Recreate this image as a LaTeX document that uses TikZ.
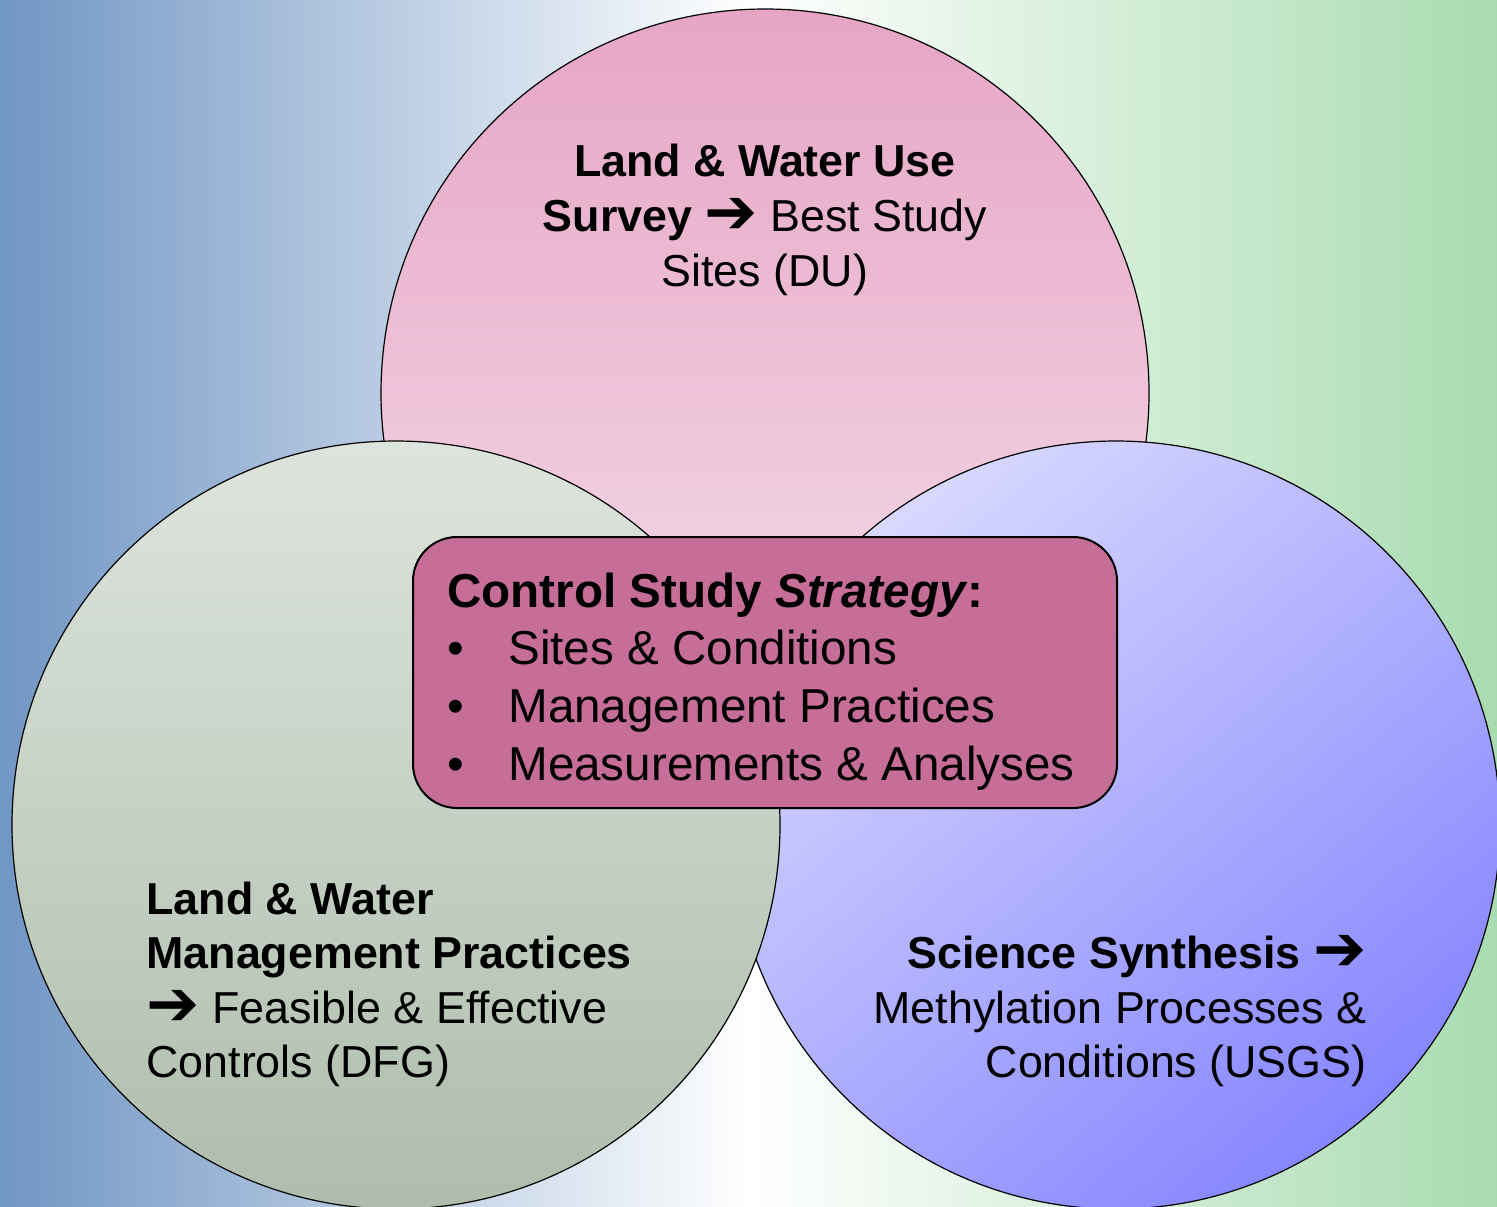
\documentclass[tikz,border=0pt]{standalone}
\usepackage{fontspec}
\setmainfont{Liberation Sans}
\newfontfamily\arrowfont{DejaVu Sans}
\newcommand{\toarrow}{\raisebox{-1.2pt}{\scalebox{1.42}{\arrowfont\symbol{"2794}}}}

\definecolor{bgblue}{RGB}{112,150,196}
\definecolor{bggreen}{RGB}{168,220,176}
\definecolor{pinktop}{RGB}{230,165,197}
\definecolor{pinkbot}{RGB}{246,224,235}
\definecolor{sagetop}{RGB}{221,228,221}
\definecolor{sagebot}{RGB}{174,189,172}
\definecolor{lilactop}{RGB}{216,216,255}
\definecolor{lilacbot}{RGB}{134,134,255}
\definecolor{boxpink}{RGB}{198,110,152}

\tikzset{
  ring/.style={draw=black, line width=0.6pt},
  lbl/.style={inner sep=0pt, font=\fontsize{22.4}{27}\selectfont},
  boxlbl/.style={inner sep=0pt, font=\fontsize{23.8}{29}\selectfont}
}

\begin{document}
\begin{tikzpicture}[x=0.5pt,y=-0.5pt]
\useasboundingbox (0,0) rectangle (1497,1206);
\shade[left color=bgblue, right color=bggreen, middle color=white] (0,0) rectangle (1497,1206);
% three circles
\shade[ring, top color=pinktop, bottom color=pinkbot] (765,393) circle (384);
\shade[ring, top color=lilactop, bottom color=lilacbot, shading angle=40] (1116,825) circle (384);
\shade[ring, top color=sagetop, bottom color=sagebot] (396,825) circle (384);
% centre box
\draw[fill=boxpink, line width=1pt, rounded corners=22pt] (413,537) rectangle (1117,808);
% top circle
\node[lbl,anchor=base] (du1) at (765,176) {\textbf{Land \& Water Use}};
\node[lbl,anchor=base] (du2) at (765,231) {\textbf{Survey \toarrow} Best Study};
\node[lbl,anchor=base] (du3) at (765,286) {Sites (DU)};
% left circle
\node[lbl,anchor=base west] (dfg1) at (146,914) {\textbf{Land \& Water}};
\node[lbl,anchor=base west] (dfg2) at (146,968) {\textbf{Management Practices}};
\node[lbl,anchor=base west] (dfg3) at (146,1023) {\textbf{\toarrow} Feasible \& Effective};
\node[lbl,anchor=base west] (dfg4) at (146,1077) {Controls (DFG)};
% right circle
\node[lbl,anchor=base east] (usgs1) at (1367,968) {\textbf{Science Synthesis \toarrow}};
\node[lbl,anchor=base east] (usgs2) at (1367,1023) {Methylation Processes \&};
\node[lbl,anchor=base east] (usgs3) at (1367,1077) {Conditions (USGS)};
% box text
\node[boxlbl,anchor=base west] (cs0) at (447,607) {\textbf{Control Study \textit{Strategy}:}};
\node[boxlbl,anchor=base west] (dot1) at (447,664) {•};
\node[boxlbl,anchor=base west] (cs1) at (508,664) {Sites \& Conditions};
\node[boxlbl,anchor=base west] (dot2) at (447,722) {•};
\node[boxlbl,anchor=base west] (cs2) at (508,722) {Management Practices};
\node[boxlbl,anchor=base west] (dot3) at (447,780) {•};
\node[boxlbl,anchor=base west] (cs3) at (508,780) {Measurements \& Analyses};
\end{tikzpicture}
\end{document}
